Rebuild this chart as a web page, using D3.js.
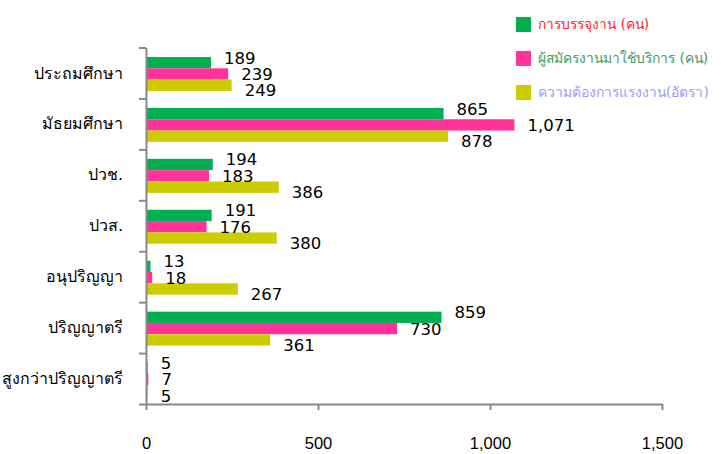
<!DOCTYPE html>
<html>
<head>
<meta charset="utf-8">
<script src="https://cdn.jsdelivr.net/npm/d3@7"></script>
<style>
  body { margin: 0; background: #fff; }
  svg { font-family: Tahoma, "DejaVu Sans", sans-serif; }
</style>
</head>
<body>
<svg id="chart" width="726" height="454"></svg>
<script>
// chart data
const categories = ["ประถมศึกษา", "มัธยมศึกษา", "ปวช.", "ปวส.", "อนุปริญญา", "ปริญญาตรี", "สูงกว่าปริญญาตรี"];
const seriesNames = ["การบรรจุงาน (คน)", "ผู้สมัครงานมาใช้บริการ (คน)", "ความต้องการแรงงาน(อัตรา)"];
const placed = [189, 865, 194, 191, 13, 859, 5];
const applicants = [239, 1071, 183, 176, 18, 730, 7];
const demand = [249, 878, 386, 380, 267, 361, 5];
const xTicks = [0, 500, 1000, 1500];

// colours
const barColors = ["#00b050", "#ff3399", "#cccc00"];
const legendTextColors = ["#ff1f1f", "#3e9c66", "#9c9cf2"];

const series = [placed, applicants, demand];

const svg = d3.select("#chart");
const plot = { left: 146, right: 662, top: 47.5, bottom: 404 };
const axisColor = "#888888";

const x = d3.scaleLinear().domain([0, 1500]).range([plot.left, plot.right]);
const y = d3.scaleBand().domain(categories).range([plot.top, plot.bottom]);
// bars sit in the middle two thirds of each band
const y1 = d3.scaleBand()
  .domain(d3.range(series.length))
  .range([y.bandwidth() / 6 + 1, y.bandwidth() * 5 / 6 + 1]);

// bars
series.forEach((vals, si) => {
  svg.append("g")
    .selectAll("rect")
    .data(vals)
    .join("rect")
    .attr("x", x(0))
    .attr("y", (d, i) => y(categories[i]) + y1(si))
    .attr("width", (d) => x(d) - x(0))
    .attr("height", y1.bandwidth())
    .attr("fill", barColors[si]);
});

// value labels, spread a little around each bar
series.forEach((vals, si) => {
  svg.append("g")
    .selectAll("text")
    .data(vals)
    .join("text")
    .attr("x", (d) => x(d) + 13)
    .attr("y", (d, i) => y(categories[i]) + y1(si) + y1.bandwidth() / 2 + (si - 1) * 5)
    .attr("dy", "0.36em")
    .attr("font-size", 16.5)
    .attr("fill", "#000")
    .text((d) => d3.format(",")(d));
});

// x axis
const xAxis = svg.append("g")
  .attr("transform", `translate(0,${plot.bottom})`)
  .call(d3.axisBottom(x).tickValues(xTicks).tickFormat(d3.format(",")).tickSize(6).tickSizeOuter(0).tickPadding(27));
xAxis.select(".domain").attr("stroke", axisColor).attr("stroke-width", 2);
xAxis.selectAll(".tick line").attr("stroke", axisColor).attr("stroke-width", 2);
xAxis.selectAll(".tick text").attr("font-size", 16.5).attr("fill", "#000").attr("font-family", null);

// y axis: ticks on band edges, labels in band centres
const yEdges = d3.scaleLinear().domain([0, categories.length]).range([plot.top, plot.bottom]);
const yAxis = svg.append("g")
  .attr("transform", `translate(${plot.left},0)`)
  .call(d3.axisLeft(yEdges).tickValues(d3.range(categories.length + 1)).tickFormat("").tickSize(7).tickSizeOuter(0));
yAxis.select(".domain").attr("stroke", axisColor).attr("stroke-width", 2);
yAxis.selectAll(".tick line").attr("stroke", axisColor).attr("stroke-width", 2);

svg.append("g")
  .selectAll("text")
  .data(categories)
  .join("text")
  .attr("x", 123)
  .attr("y", (d) => y(d) + y.bandwidth() / 2)
  .attr("dy", "0.35em")
  .attr("text-anchor", "end")
  .attr("font-size", 16)
  .attr("fill", "#000")
  .text((d) => d);

// legend
const legend = svg.append("g")
  .selectAll("g")
  .data(seriesNames)
  .join("g")
  .attr("transform", (d, i) => `translate(516,${17 + i * 34})`);

legend.append("rect")
  .attr("width", 15)
  .attr("height", 15)
  .attr("fill", (d, i) => barColors[i]);

const legendText = legend.append("text")
  .attr("x", 22)
  .attr("y", 7.5)
  .attr("dy", "0.35em")
  .attr("font-size", 16)
  .attr("fill", (d, i) => legendTextColors[i])
  .text((d) => d);

// shrink the legend font so the longest entry stays inside the right edge
const room = 726 - 516 - 22 - 10;
const widest = d3.max(legendText.nodes(), (n) => n.getComputedTextLength());
if (widest > room) {
  legendText.attr("font-size", Math.floor(16 * room / widest * 10) / 10);
}
</script>
</body>
</html>
